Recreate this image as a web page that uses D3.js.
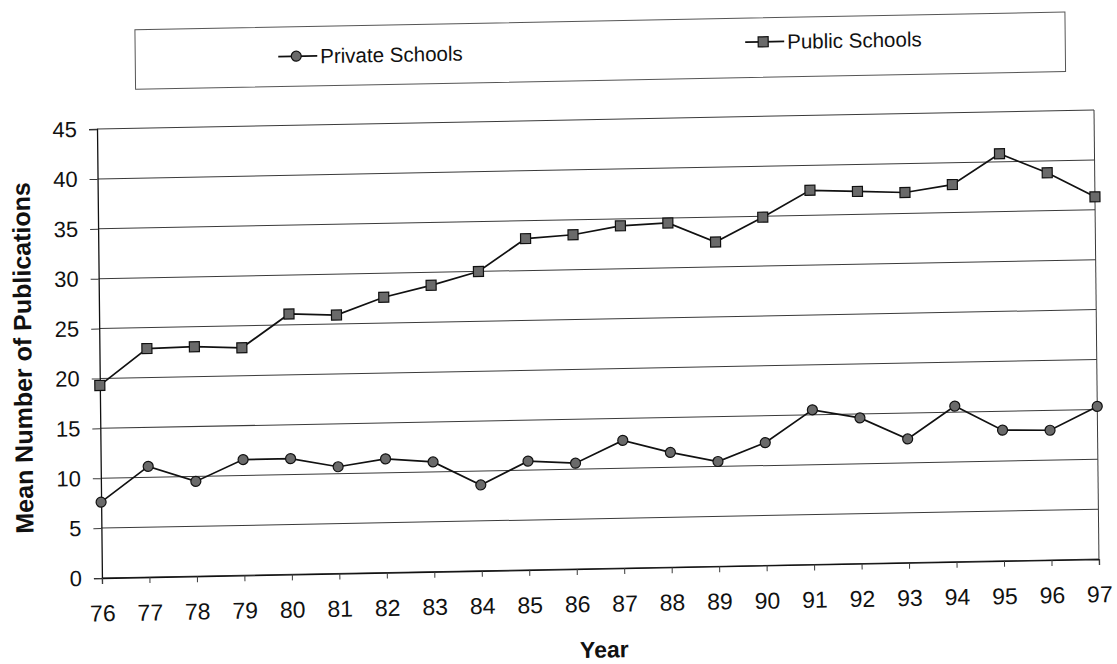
<!DOCTYPE html>
<html>
<head>
<meta charset="utf-8">
<script src="https://cdn.jsdelivr.net/npm/d3@7"></script>
<style>
  html, body { margin: 0; padding: 0; background: #fff; }
  svg { display: block; }
  text { font-family: "Liberation Sans", Arial, Helvetica, sans-serif; fill: #111; }
</style>
</head>
<body>
<svg id="chart" width="1117" height="664"></svg>
<script>
// Year labels along the x axis
const years = ["76","77","78","79","80","81","82","83","84","85","86",
               "87","88","89","90","91","92","93","94","95","96","97"];

// Mean number of publications per year
const privateSchools = [7.6, 11.1, 9.5, 11.6, 11.6, 10.7, 11.4, 11.0, 8.6, 10.9, 10.6,
                        12.8, 11.5, 10.5, 12.3, 15.5, 14.6, 12.4, 15.6, 13.1, 13.0, 15.3];
const publicSchools  = [19.3, 22.9, 23.0, 22.8, 26.1, 25.9, 27.6, 28.7, 30.0, 33.2, 33.5,
                        34.3, 34.5, 32.5, 34.9, 37.5, 37.3, 37.1, 37.8, 40.8, 38.8, 36.3];

const yTicks = [0, 5, 10, 15, 20, 25, 30, 35, 40, 45];
const seriesNames = ["Private Schools", "Public Schools"];

// Plot area
const L = 97, T = 129, W = 997, H = 449;

const svg = d3.select("#chart");
svg.append("rect").attr("width", 1117).attr("height", 664).attr("fill", "#fff");

// The whole sheet sits slightly skewed on the page
const root = svg.append("g")
  .attr("transform", `translate(${L},${T}) matrix(1,-0.019,0.011,1,0,0) translate(${-L},${-T})`);

const x = d3.scalePoint().domain(years).range([L, L + W]).padding(0);
const y = d3.scaleLinear().domain([0, 45]).range([T + H, T]);

// Horizontal gridlines
root.append("g")
  .selectAll("line")
  .data(yTicks)
  .join("line")
  .attr("x1", L).attr("x2", L + W)
  .attr("y1", d => y(d)).attr("y2", d => y(d))
  .attr("stroke", "#3a3a3a")
  .attr("stroke-width", 1);

// Plot border (right edge)
root.append("line")
  .attr("x1", L + W).attr("x2", L + W)
  .attr("y1", T).attr("y2", T + H)
  .attr("stroke", "#3a3a3a").attr("stroke-width", 1);

// Y axis
const yAxis = root.append("g")
  .attr("transform", `translate(${L},0)`)
  .call(d3.axisLeft(y).tickValues(yTicks).tickSize(8).tickPadding(12).tickFormat(d3.format("d")));
yAxis.select(".domain").attr("stroke", "#111").attr("stroke-width", 1.3);
yAxis.selectAll(".tick line").attr("stroke", "#3a3a3a");
yAxis.selectAll(".tick text").attr("font-size", 22).attr("fill", "#111");

// X axis
const xAxis = root.append("g")
  .attr("transform", `translate(0,${T + H})`)
  .call(d3.axisBottom(x).tickSize(6).tickPadding(21));
xAxis.select(".domain").attr("stroke", "#111").attr("stroke-width", 1.3);
xAxis.selectAll(".tick line").attr("stroke", "#3a3a3a");
xAxis.selectAll(".tick text").attr("font-size", 23).attr("fill", "#111");

// Axis titles
root.append("text")
  .attr("transform", `translate(20,${T + H / 2 + 3}) rotate(-90)`)
  .attr("text-anchor", "middle")
  .attr("dominant-baseline", "central")
  .attr("font-size", 25)
  .attr("font-weight", "bold")
  .text("Mean Number of Publications");

root.append("text")
  .attr("x", L + W / 2 + 3)
  .attr("y", 667)
  .attr("text-anchor", "middle")
  .attr("font-size", 23)
  .attr("font-weight", "bold")
  .text("Year");

// Series lines and markers
const line = d3.line().x((d, i) => x(years[i])).y(d => y(d));

function drawSeries(values, shape) {
  const g = root.append("g");
  g.append("path")
    .datum(values)
    .attr("d", line)
    .attr("fill", "none")
    .attr("stroke", "#111")
    .attr("stroke-width", 1.7);
  if (shape === "circle") {
    g.selectAll("circle").data(values).join("circle")
      .attr("cx", (d, i) => x(years[i]))
      .attr("cy", d => y(d))
      .attr("r", 5)
      .attr("fill", "#6a6a6a")
      .attr("stroke", "#111")
      .attr("stroke-width", 1.2);
  } else {
    g.selectAll("rect").data(values).join("rect")
      .attr("x", (d, i) => x(years[i]) - 5)
      .attr("y", d => y(d) - 5)
      .attr("width", 10).attr("height", 10)
      .attr("fill", "#6a6a6a")
      .attr("stroke", "#111")
      .attr("stroke-width", 1.2);
  }
}
drawSeries(publicSchools, "square");
drawSeries(privateSchools, "circle");

// Legend
const legend = root.append("g");
legend.append("rect")
  .attr("x", 136).attr("y", 30.5)
  .attr("width", 930).attr("height", 59.5)
  .attr("fill", "none")
  .attr("stroke", "#555")
  .attr("stroke-width", 1);

const legendItems = [
  { name: seriesNames[0], shape: "circle", mx: 297, my: 60 },
  { name: seriesNames[1], shape: "square", mx: 764, my: 54.5 }
];
legendItems.forEach(item => {
  const g = legend.append("g");
  g.append("line")
    .attr("x1", item.mx - 18).attr("x2", item.mx + 21)
    .attr("y1", item.my).attr("y2", item.my)
    .attr("stroke", "#111").attr("stroke-width", 1.7);
  if (item.shape === "circle") {
    g.append("circle").attr("cx", item.mx).attr("cy", item.my).attr("r", 5)
      .attr("fill", "#6a6a6a").attr("stroke", "#111").attr("stroke-width", 1.2);
  } else {
    g.append("rect").attr("x", item.mx - 5).attr("y", item.my - 5)
      .attr("width", 10).attr("height", 10)
      .attr("fill", "#6a6a6a").attr("stroke", "#111").attr("stroke-width", 1.2);
  }
  g.append("text")
    .attr("x", item.mx + 24)
    .attr("y", item.my + 7.5)
    .attr("font-size", 20.5)
    .text(item.name);
});
</script>
</body>
</html>
